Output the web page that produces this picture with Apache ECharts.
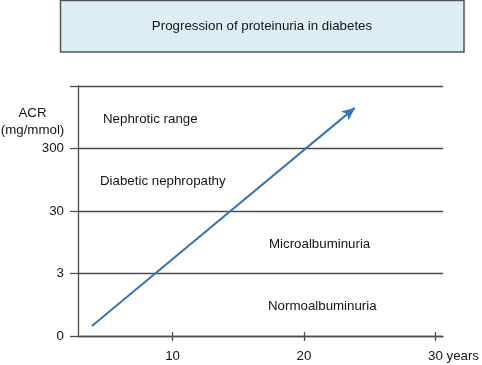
<!DOCTYPE html>
<html>
<head>
<meta charset="utf-8">
<style>html,body{margin:0;padding:0;background:#fff;}#c{width:482px;height:365px;}</style>
<script src="https://cdn.jsdelivr.net/npm/echarts@6/dist/echarts.min.js"></script>
</head>
<body>
<div id="c"></div>
<script>
var titleText = 'Progression of proteinuria in diabetes';
var yTickLabels = ['0', '3', '30', '300', ''];
var xTickValues = [10, 20, 30];
var xTickLabels = ['10', '20', '30'];
var xUnit = ' years';
var yAxisName = ['ACR', '(mg/mmol)'];
var regionNames = ['Nephrotic range', 'Diabetic nephropathy', 'Microalbuminuria', 'Normoalbuminuria'];
var arrowX = [3.86, 23.86];
var arrowY = [0.16, 3.65];

var font = '"Liberation Sans", Arial, Helvetica, sans-serif';
var fs = 13.3;
var lineColor = '#4d4d4d';
var textColor = '#141414';
var chart = echarts.init(document.getElementById('c'), null, {renderer: 'canvas'});

function txt(s, x, y, align) {
  return {type: 'text', style: {text: s, x: x, y: y, textAlign: align, textVerticalAlign: 'middle',
    font: fs + 'px ' + font, fill: textColor}};
}

var option = {
  animation: false,
  backgroundColor: '#fff',
  textStyle: {fontFamily: font},
  grid: {left: 78, right: 37.3, top: 86, bottom: 29, containLabel: false},
  xAxis: [{
    type: 'value', min: 2.8, max: 30.58,
    axisLine: {show: true, lineStyle: {color: lineColor, width: 1.3}},
    axisTick: {show: true, customValues: xTickValues, length: 5, lineStyle: {color: lineColor, width: 1.3}},
    axisLabel: {
      customValues: xTickValues, margin: 14, color: textColor, fontSize: fs, fontFamily: font,
      formatter: function (v) {
        var i = xTickValues.indexOf(v);
        var s = i >= 0 ? xTickLabels[i] : '';
        if (i === xTickValues.length - 1) return '{p|}' + s + xUnit;
        return s;
      },
      rich: {p: {width: 36.2}}
    },
    splitLine: {show: false}
  }, {
    type: 'value', min: 2.8, max: 30.58, position: 'bottom',
    axisLine: {show: false},
    axisTick: {show: true, inside: true, customValues: xTickValues, length: 4, lineStyle: {color: lineColor, width: 1.3}},
    axisLabel: {show: false},
    splitLine: {show: false}
  }],
  yAxis: {
    type: 'value', min: 0, max: 4, interval: 1,
    axisLine: {show: true, lineStyle: {color: lineColor, width: 1.3}},
    axisTick: {show: true, length: 8, lineStyle: {color: lineColor, width: 1.3}},
    axisLabel: {
      margin: 14, color: textColor, fontSize: fs, fontFamily: font,
      formatter: function (v) { return yTickLabels[Math.round(v)] || ''; }
    },
    splitLine: {show: true, lineStyle: {color: lineColor, width: 1.3}}
  },
  graphic: [
    {type: 'rect', shape: {x: 60.5, y: 0.5, width: 403.5, height: 51.5},
     style: {fill: '#dcEEF1', stroke: '#555', lineWidth: 1.5}},
    txt(titleText, 262, 26, 'center'),
    txt(yAxisName[0], 32.5, 113, 'center'),
    txt(yAxisName[1], 32.5, 130, 'center'),
    txt(regionNames[0], 103, 119, 'left'),
    txt(regionNames[1], 100, 181, 'left'),
    txt(regionNames[2], 269, 244, 'left'),
    txt(regionNames[3], 268, 306.5, 'left')
  ],
  series: [{
    type: 'line',
    data: [],
    silent: true,
    markLine: {
      silent: true,
      symbol: ['none', 'arrow'],
      symbolSize: [9, 13],
      label: {show: false},
      lineStyle: {color: '#3b73b9', width: 2, type: 'solid'},
      emphasis: {disabled: true},
      data: [[{coord: [arrowX[0], arrowY[0]]}, {coord: [arrowX[1], arrowY[1]]}]]
    }
  }]
};
chart.setOption(option);
</script>
</body>
</html>
